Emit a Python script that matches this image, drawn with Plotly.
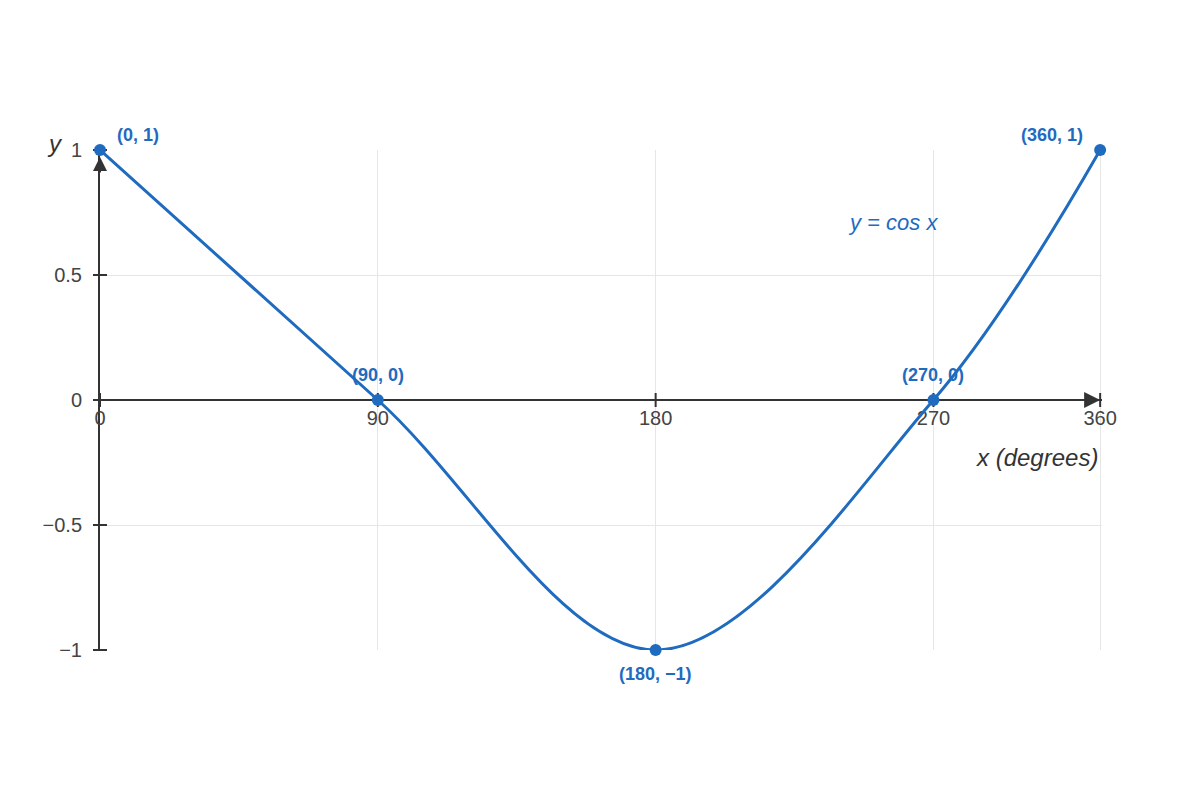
""" Cosine curve through its key points over one period
"""
import plotly.graph_objects as go

BLUE = '#1e6bbf'
INK = '#333333'
FONT = 'Liberation Sans, Arial, sans-serif'

# key points of y = cos x, placed where they sit on the drawn x axis
point_x = [0, 90, 180, 270, 324]
point_y = [1, 0, -1, 0, 1]
point_labels = ['(0, 1)', '(90, 0)', '(180, −1)', '(270, 0)', '(360, 1)']

# axis ticks
x_ticks = [0, 90, 180, 270, 324]
x_tick_text = ['0', '90', '180', '270', '360']
y_ticks = [-1, -0.5, 0, 0.5, 1]
y_tick_text = ['−1', '−0.5', '0', '0.5', '1']

fig = go.Figure()

# small cross ticks on both axis lines
fig.add_trace(go.Scatter(
    x=[0] * len(y_ticks), y=y_ticks, mode='markers', hoverinfo='skip',
    marker=dict(symbol='line-ew', size=10, line=dict(width=2, color=INK)),
    cliponaxis=False,
))
fig.add_trace(go.Scatter(
    x=x_ticks, y=[0] * len(x_ticks), mode='markers', hoverinfo='skip',
    marker=dict(symbol='line-ns', size=10, line=dict(width=2, color=INK)),
    cliponaxis=False,
))

# the curve itself
fig.add_trace(go.Scatter(
    x=point_x, y=point_y,
    mode='lines+markers',
    line=dict(color=BLUE, width=3, shape='spline'),
    marker=dict(color=BLUE, size=12),
    cliponaxis=False,
))

# labels next to the key points
for px, py, label in zip(point_x, point_y, point_labels):
    if px == point_x[0]:
        anchor, dx = 'left', 15
    elif px == point_x[-1]:
        anchor, dx = 'right', -15
    else:
        anchor, dx = 'center', 0
    if py == 1:
        dy = 15
    elif py == 0:
        dy = 25
    else:
        dy = -24
    fig.add_annotation(x=px, y=py, text=label, showarrow=False,
                       xanchor=anchor, yanchor='middle', xshift=dx, yshift=dy,
                       font=dict(family=FONT, size=18, color=BLUE, weight='bold'))

# arrow heads at the ends of the axes
fig.add_annotation(x=x_ticks[-1], y=0, ax=-24, ay=0, text='', showarrow=True,
                   arrowhead=2, arrowsize=1.6, arrowwidth=2, arrowcolor=INK)
fig.add_annotation(x=0, y=y_ticks[-1], ax=0, ay=24, text='', showarrow=True, standoff=7,
                   arrowhead=2, arrowsize=1.4, arrowwidth=2, arrowcolor=INK)

# axis titles and curve label
fig.add_annotation(x=x_ticks[-1], y=0, text='x (degrees)', showarrow=False,
                   xanchor='right', yanchor='middle', yshift=-57,
                   font=dict(family=FONT, size=24, color=INK, style='italic'))
fig.add_annotation(x=0, y=y_ticks[-1], text='y', showarrow=False,
                   xanchor='center', yanchor='middle', xshift=-45, yshift=7,
                   font=dict(family=FONT, size=24, color=INK, style='italic'))
fig.add_annotation(x=257, y=0.71, text='y = cos x', showarrow=False,
                   font=dict(family=FONT, size=22, color=BLUE, style='italic'))

fig.update_layout(
    width=1200, height=800,
    margin=dict(l=92, r=106, t=142, b=158),
    paper_bgcolor='white', plot_bgcolor='white',
    showlegend=False,
    font=dict(family=FONT, size=20, color='#444444'),
    xaxis=dict(
        range=[0, 324.6], anchor='free', position=0.5,
        tickmode='array', tickvals=x_ticks, ticktext=x_tick_text,
        ticks='', showline=True, linecolor=INK, linewidth=2, layer='below traces',
        showgrid=True, gridcolor='#e6e6e6', gridwidth=1, zeroline=False,
    ),
    yaxis=dict(
        range=[-1, 1],
        tickmode='array', tickvals=y_ticks, ticktext=y_tick_text,
        ticks='', ticklabelstandoff=12,
        showline=True, linecolor=INK, linewidth=2, layer='below traces',
        showgrid=True, gridcolor='#e6e6e6', gridwidth=1, zeroline=False,
    ),
)

fig.write_html('out.html')
